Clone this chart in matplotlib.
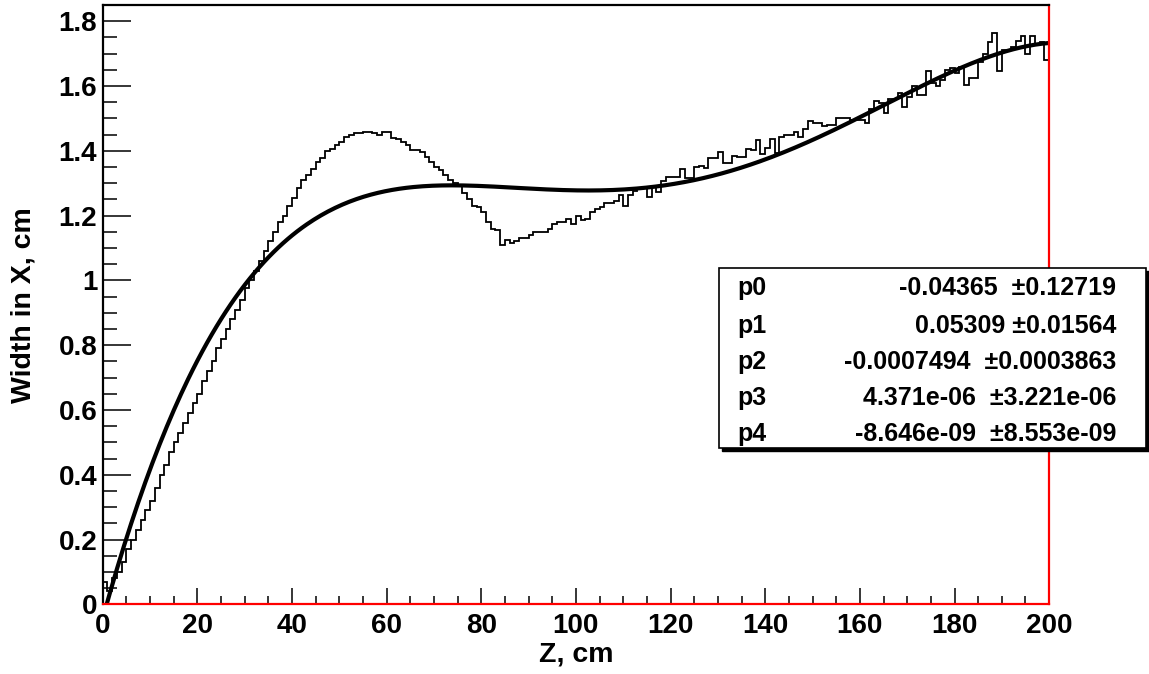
import numpy as np
import matplotlib.pyplot as plt
from matplotlib.patches import Rectangle
from matplotlib.ticker import MultipleLocator

plt.rcParams['font.family'] = ['Liberation Sans', 'DejaVu Sans']
plt.rcParams['font.weight'] = 'bold'

# histogram: 200 bins of 1 cm from 0 to 200
edges = np.arange(0, 201, 1)
width = [
    0.07, 0.04, 0.08, 0.10, 0.13, 0.17, 0.20, 0.23, 0.26, 0.29, 0.32, 0.36, 0.40, 0.43, 0.47, 0.50, 0.53, 0.56, 0.59, 0.62,
    0.65, 0.69, 0.72, 0.75, 0.79, 0.82, 0.85, 0.88, 0.91, 0.94, 0.975, 1.00, 1.03, 1.06, 1.09, 1.12, 1.15, 1.18, 1.20, 1.23,
    1.254, 1.284, 1.310, 1.325, 1.343, 1.364, 1.377, 1.398, 1.405, 1.418, 1.428, 1.442, 1.449, 1.454, 1.456, 1.459, 1.459, 1.454, 1.449, 1.457,
    1.457, 1.438, 1.435, 1.428, 1.418, 1.402, 1.402, 1.397, 1.382, 1.366, 1.351, 1.340, 1.325, 1.310, 1.302, 1.290, 1.27, 1.25, 1.23, 1.225,
    1.21, 1.18, 1.16, 1.155, 1.11, 1.125, 1.115, 1.12, 1.13, 1.13, 1.14, 1.15, 1.15, 1.15, 1.16, 1.175, 1.18, 1.18, 1.19, 1.175,
    1.20, 1.185, 1.19, 1.21, 1.22, 1.225, 1.24, 1.24, 1.245, 1.265, 1.23, 1.265, 1.275, 1.284, 1.284, 1.256, 1.291, 1.274, 1.308, 1.318,
    1.318, 1.318, 1.343, 1.317, 1.317, 1.349, 1.353, 1.346, 1.377, 1.377, 1.397, 1.361, 1.361, 1.384, 1.38, 1.38, 1.405, 1.403, 1.432, 1.39,
    1.408, 1.436, 1.392, 1.442, 1.449, 1.449, 1.459, 1.444, 1.466, 1.493, 1.485, 1.485, 1.476, 1.478, 1.48, 1.50, 1.50, 1.50, 1.495, 1.495,
    1.495, 1.485, 1.528, 1.555, 1.547, 1.516, 1.559, 1.559, 1.577, 1.534, 1.565, 1.60, 1.572, 1.572, 1.645, 1.608, 1.60, 1.619, 1.65, 1.655,
    1.641, 1.66, 1.603, 1.624, 1.624, 1.675, 1.70, 1.735, 1.762, 1.645, 1.71, 1.71, 1.72, 1.74, 1.755, 1.70, 1.755, 1.73, 1.735, 1.68,
]

# pol4 fit parameters (from the stat box)
par_names = ['p0', 'p1', 'p2', 'p3', 'p4']
par_vals = ['-0.04365', '0.05309', '-0.0007494', '4.371e-06', '-8.646e-09']
par_errs = ['0.12719', '0.01564', '0.0003863', '3.221e-06', '8.553e-09']
par_gap = ['  ', ' ', '  ', '  ', '  ']
coef = [float(v) for v in par_vals]

fig = plt.figure(figsize=(11.49, 6.74), dpi=100)
ax = fig.add_axes([0.0894, 0.1034, 0.8237, 0.8892])

ax.stairs(width, edges, baseline=None, color='black', linewidth=1.3)
z = np.linspace(0, 200, 400)
ax.plot(z, np.polyval(coef[::-1], z), color='black', linewidth=3)

ax.set_xlim(0, 200)
ax.set_ylim(0, 1.85)
ax.xaxis.set_major_locator(MultipleLocator(20))
ax.xaxis.set_minor_locator(MultipleLocator(5))
ax.yaxis.set_major_locator(MultipleLocator(0.2))
ax.yaxis.set_minor_locator(MultipleLocator(0.05))
ax.yaxis.set_major_formatter(plt.FuncFormatter(lambda v, p: ('%g' % round(v, 2))))

ax.tick_params(axis='x', which='major', direction='in', length=11.5, width=1.1, labelsize=20, pad=6, top=False)
ax.tick_params(axis='x', which='minor', direction='in', length=5.8, width=1.1, top=False)
ax.tick_params(axis='y', which='major', direction='in', length=20, width=1.1, labelsize=20, pad=4, right=False)
ax.tick_params(axis='y', which='minor', direction='in', length=10, width=1.1, right=False)

for s in ['left', 'top']:
    ax.spines[s].set_linewidth(1.6)
    ax.spines[s].set_color('black')
for s in ['bottom', 'right']:
    ax.spines[s].set_linewidth(1.6)
    ax.spines[s].set_color('red')

ax.set_xlabel('Z, cm', fontsize=20.5, fontweight='bold', labelpad=2)
ax.set_ylabel('Width in X, cm', fontsize=20.5, fontweight='bold', labelpad=16)

# stat box in figure pixels
W, H = 1149, 674
bx0, by0, bx1, by1 = 719, 268, 1146, 448
shadow = Rectangle((bx0 + 3, H - by1 - 3), bx1 - bx0, by1 - by0, transform=None,
                   facecolor='black', edgecolor='black', zorder=5)
box = Rectangle((bx0, H - by1), bx1 - bx0, by1 - by0, transform=None,
                facecolor='white', edgecolor='black', linewidth=1.2, zorder=6)
fig.add_artist(shadow)
fig.add_artist(box)
row_y = [288, 326, 362, 398, 434]
for n, v, g, e, yc in zip(par_names, par_vals, par_gap, par_errs, row_y):
    fig.text(737 / W, 1 - yc / H, n, fontsize=18, fontweight='bold', ha='left', va='center', zorder=7)
    fig.text(1116 / W, 1 - yc / H, v + g + '\u00b1' + e, fontsize=18, fontweight='bold',
             ha='right', va='center', zorder=7)

fig.savefig('out.png', dpi=100)
